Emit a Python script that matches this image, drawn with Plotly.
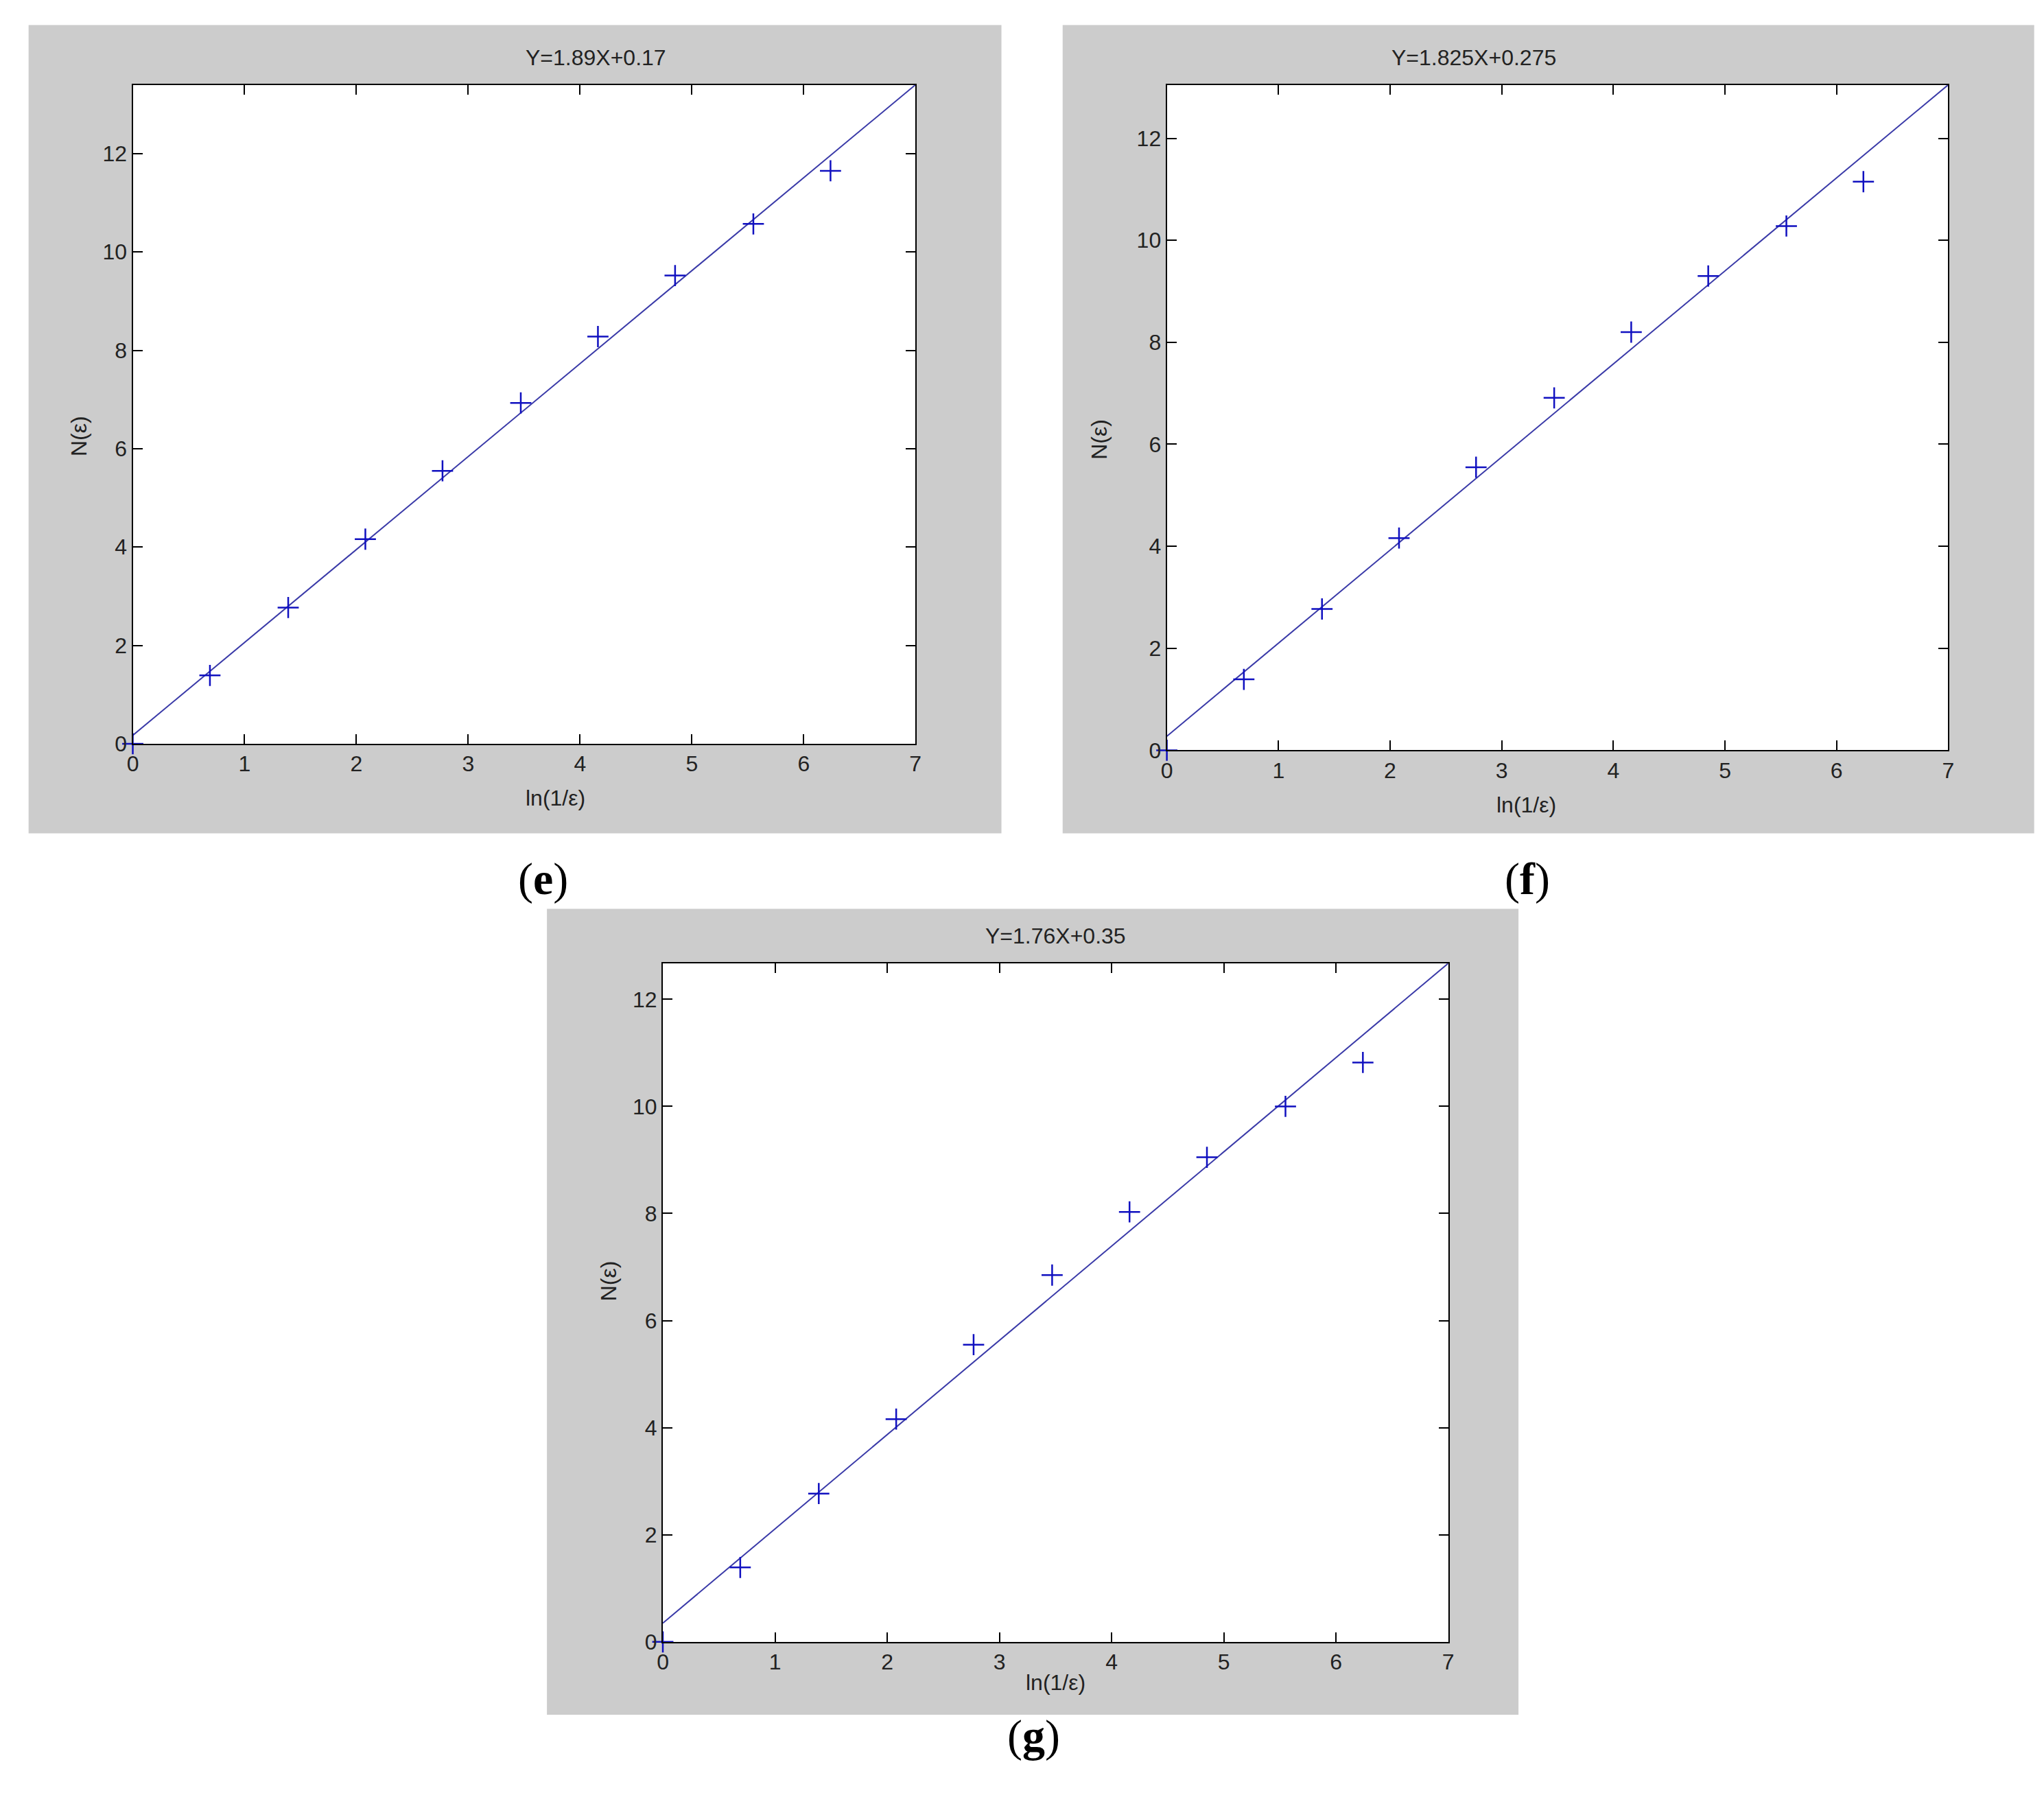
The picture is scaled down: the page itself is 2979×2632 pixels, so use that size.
import plotly.graph_objects as go

x_vals = [0, 0.69, 1.39, 2.08, 2.77, 3.47, 4.16, 4.85, 5.55, 6.24]
y_e = [0, 1.39, 2.77, 4.16, 5.55, 6.93, 8.28, 9.52, 10.57, 11.65]
y_f = [0, 1.39, 2.77, 4.16, 5.55, 6.91, 8.20, 9.30, 10.28, 11.15]
y_g = [0, 1.39, 2.77, 4.16, 5.55, 6.85, 8.03, 9.05, 10.00, 10.82]
fits = {"e": (1.89, 0.17), "f": (1.825, 0.275), "g": (1.76, 0.35)}
titles = {"e": "Y=1.89X+0.17", "f": "Y=1.825X+0.275", "g": "Y=1.76X+0.35"}
x_ticks = [0, 1, 2, 3, 4, 5, 6, 7]
y_ticks = [0, 2, 4, 6, 8, 10, 12]

W, H = 1560, 1380
def fx(p): return p / W
def fy(p): return 1 - p / H

panels = {
    "e": dict(data=y_e, ax="", plot=(93, 694, 61, 568), gray=(13, 760, 15, 637), lab=(388, 672)),
    "f": dict(data=y_f, ax="2", plot=(887, 1487, 61, 573), gray=(807, 1553, 15, 637), lab=(1182, 672)),
    "g": dict(data=y_g, ax="3", plot=(500, 1103, 737, 1259), gray=(411, 1157, 695, 1315), lab=(785, 1352)),
}

fig = go.Figure()
font = dict(family="Liberation Sans, Arial", size=32, color="#222")
shapes, annots = [], []
for key, p in panels.items():
    a, b = fits[key]
    xa, ya = "x" + p["ax"], "y" + p["ax"]
    fig.add_trace(go.Scatter(x=[0, 7], y=[b, a * 7 + b], mode="lines",
                             line=dict(color="#3a3aa8", width=2), xaxis=xa, yaxis=ya, showlegend=False))
    fig.add_trace(go.Scatter(x=x_vals, y=p["data"], mode="markers",
                             marker=dict(symbol="cross-thin", size=22, line=dict(color="#1010c0", width=2.5)),
                             xaxis=xa, yaxis=ya, showlegend=False, cliponaxis=False))
    x0, x1, top, bot = p["plot"]
    g0, g1, g2, g3 = p["gray"]
    common = dict(showgrid=False, zeroline=False, ticks="inside", ticklen=14, tickwidth=2,
                  tickcolor="black", mirror="ticks", showline=True, linecolor="black", linewidth=2,
                  tickfont=font)
    fig.layout["xaxis" + p["ax"]] = dict(domain=[fx(x0), fx(x1)], range=[0, 7], tickvals=x_ticks,
                                         anchor=ya, **common)
    fig.layout["yaxis" + p["ax"]] = dict(domain=[fy(bot), fy(top)], range=[0, a * 7 + b], tickvals=y_ticks,
                                         anchor=xa, **common)
    shapes.append(dict(type="rect", xref="paper", yref="paper", x0=fx(g0), x1=fx(g1), y0=fy(g3), y1=fy(g2),
                       fillcolor="#cccccc", line=dict(width=0), layer="below"))
    shapes.append(dict(type="rect", xref="paper", yref="paper", x0=fx(x0), x1=fx(x1), y0=fy(bot), y1=fy(top),
                       fillcolor="white", line=dict(width=0), layer="below"))
    cx = (x0 + x1) / 2
    annots.append(dict(text=titles[key], x=fx(cx), y=fy(top - 21), xref="paper", yref="paper",
                       showarrow=False, font=font, yanchor="middle"))
    annots.append(dict(text="ln(1/ε)", x=fx(cx), y=fy(bot + 42), xref="paper", yref="paper",
                       showarrow=False, font=font))
    annots.append(dict(text="N(ε)", x=fx(x0 - 52), y=fy((top + bot) / 2), xref="paper", yref="paper",
                       showarrow=False, font=font, textangle=-90))
    annots.append(dict(text="(<b>%s</b>)" % key, x=fx(p["lab"][0]), y=fy(p["lab"][1]), xref="paper",
                       yref="paper", showarrow=False,
                       font=dict(family="Liberation Serif, Times New Roman", size=66, color="black")))

fig.update_layout(width=2979, height=2632, margin=dict(l=0, r=0, t=0, b=0),
                  paper_bgcolor="white", plot_bgcolor="rgba(0,0,0,0)", shapes=shapes, annotations=annots)
fig.write_html("out.html")
